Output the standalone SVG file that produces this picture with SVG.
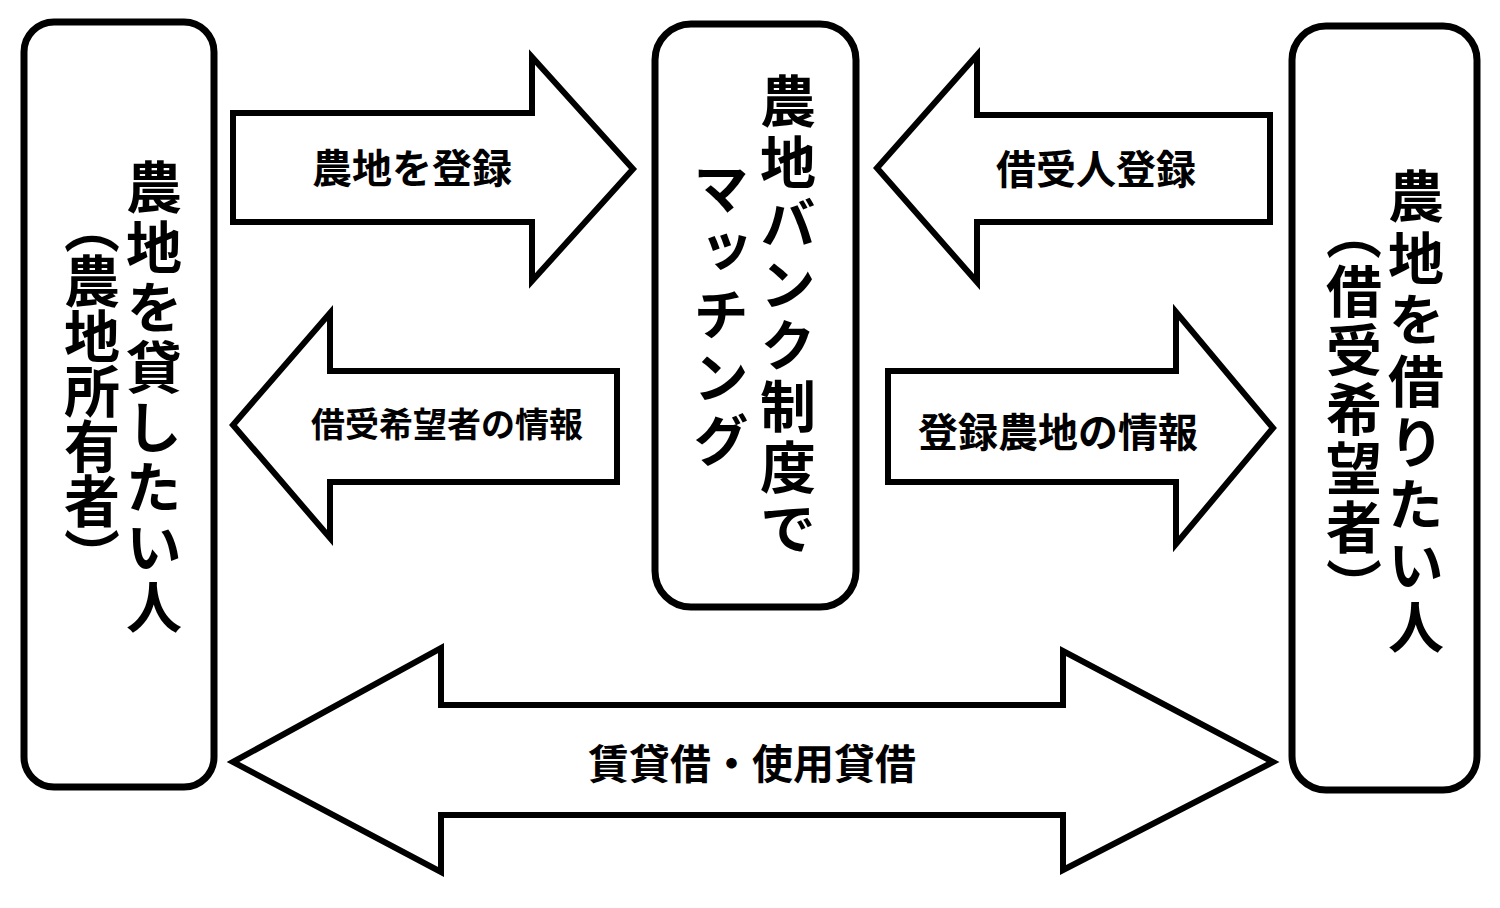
<svg xmlns="http://www.w3.org/2000/svg" width="1500" height="908" viewBox="0 0 1500 908">
<style>
.box{fill:#fff;stroke:#000;stroke-width:7}
.arr{fill:#fff;stroke:#000;stroke-width:6;stroke-linejoin:miter}
.vt{font-family:"Noto Sans CJK JP","Noto Sans CJK SC",sans-serif;font-size:56px;font-weight:700;fill:#000;writing-mode:vertical-rl;text-orientation:upright;letter-spacing:3px}
.ht{font-family:"Noto Sans CJK JP","Noto Sans CJK SC",sans-serif;font-size:40px;font-weight:700;fill:#000;text-anchor:middle;dominant-baseline:central}
</style>
<rect width="1500" height="908" fill="#fff"/>
<g id="connectors">
<g id="arrow-register-land">
<path class="arr" d="M233,113 L532,113 L532,57 L633,169 L532,281 L532,222 L233,222 Z"/>
<text class="ht" x="412" y="166">農地を登録</text>
</g>
<g id="arrow-applicant-info">
<path class="arr" d="M617,371 L330,371 L330,313 L233,425 L330,538 L330,482 L617,482 Z"/>
<text class="ht" x="447" y="422" style="font-size:34px">借受希望者の情報</text>
</g>
<g id="arrow-register-borrower">
<path class="arr" d="M1270,115 L977,115 L977,55 L877,168 L977,282 L977,222 L1270,222 Z"/>
<text class="ht" x="1096" y="167">借受人登録</text>
</g>
<g id="arrow-land-info">
<path class="arr" d="M888,371 L1176,371 L1176,312 L1273,428 L1176,544 L1176,482 L888,482 Z"/>
<text class="ht" x="1058" y="430">登録農地の情報</text>
</g>
<g id="arrow-lease">
<path class="arr" d="M233,762 L441,648 L441,705 L1063,705 L1063,651 L1273,762 L1063,870 L1063,815 L441,815 L441,872 Z"/>
<text class="ht" x="752" y="761" style="font-size:41px">賃貸借・使用貸借</text>
</g>
</g>
<g id="node-owner">
<rect class="box" x="24" y="22" width="190" height="765" rx="30"/>
<text class="vt" x="154" y="159" style="letter-spacing:4px">農地を貸したい人</text>
<text class="vt" x="92" y="198" style="letter-spacing:-1px">（農地所有者）</text>
</g>
<g id="node-bank">
<rect class="box" x="655" y="24" width="201" height="583" rx="36"/>
<text class="vt" x="788" y="73" style="letter-spacing:5px">農地バンク制度で</text>
<text class="vt" x="721" y="160" style="letter-spacing:7px">マッチング</text>
</g>
<g id="node-borrower">
<rect class="box" x="1292" y="26" width="185" height="764" rx="34"/>
<text class="vt" x="1416" y="168" style="letter-spacing:5.5px">農地を借りたい人</text>
<text class="vt" x="1354" y="204">（借受希望者）</text>
</g>
</svg>
